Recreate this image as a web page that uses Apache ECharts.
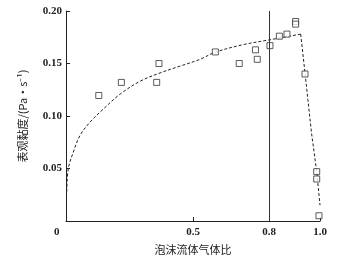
<!DOCTYPE html>
<html><head><meta charset="utf-8">
<script src="https://cdn.jsdelivr.net/npm/echarts@6/dist/echarts.min.js"></script>
<style>html,body{margin:0;padding:0;background:#fff}#c{width:356px;height:260px}</style>
</head><body><div id="c"></div>
<script>
// measured points (gas fraction, apparent viscosity)
const pointX = [0.129, 0.218, 0.357, 0.366, 0.588, 0.682, 0.746, 0.753, 0.803, 0.840, 0.870, 0.904, 0.904, 0.941, 0.987, 0.987, 0.996];
const pointY = [0.1195, 0.132, 0.132, 0.150, 0.161, 0.150, 0.163, 0.154, 0.167, 0.176, 0.178, 0.190, 0.1875, 0.140, 0.047, 0.040, 0.005];
// fitted dashed curve (rising branch, then falling branch)
const riseX = [0.003, 0.009, 0.029, 0.055, 0.094, 0.147, 0.213, 0.291, 0.370, 0.449, 0.528, 0.587, 0.698, 0.803, 0.924];
const riseY = [0.028, 0.050, 0.0657, 0.0814, 0.094, 0.1066, 0.1208, 0.133, 0.141, 0.1475, 0.154, 0.1607, 0.168, 0.1726, 0.178];
const fallX = [0.924, 0.941, 0.967, 0.987, 1.0];
const fallY = [0.178, 0.141, 0.083, 0.047, 0.015];
const xTickValues = [0.5, 0.8, 1.0];
const xTickLabels = ['0.5', '0.8', '1.0'];
const originLabel = '0';
const refLineX = 0.8;
const xName = '泡沫流体气体比';
const yName = '表观黏度/(Pa·s⁻¹)';

const numFont = '"Liberation Serif", "Noto Sans CJK SC", serif';
const dash = {color: '#222', width: 1, type: [3, 2]};
const chart = echarts.init(document.getElementById('c'), null, {renderer: 'canvas'});
chart.setOption({
  animation: false,
  grid: {left: 66, right: 36, top: 11, bottom: 38, containLabel: false},
  xAxis: {
    type: 'value', min: 0, max: 1,
    name: xName, nameLocation: 'middle', nameGap: 23,
    nameTextStyle: {fontFamily: '"Noto Sans CJK SC", sans-serif', fontSize: 11, color: '#222'},
    axisLine: {show: true, lineStyle: {color: '#222', width: 1}},
    axisTick: {show: true, inside: true, length: 4, customValues: xTickValues, lineStyle: {color: '#222'}},
    axisLabel: {
      customValues: xTickValues, margin: 6,
      formatter: v => xTickLabels[xTickValues.indexOf(v)] ?? '',
      fontFamily: numFont, fontWeight: 'bold', fontSize: 11, color: '#222'
    },
    splitLine: {show: false}
  },
  yAxis: {
    type: 'value', min: 0, max: 0.2, interval: 0.05,
    name: yName, nameLocation: 'middle', nameGap: 38, nameRotate: 90,
    nameTextStyle: {fontFamily: '"Noto Sans CJK SC", sans-serif', fontSize: 11, color: '#222'},
    axisLine: {show: true, lineStyle: {color: '#222', width: 1}},
    axisTick: {show: true, inside: true, length: 4, lineStyle: {color: '#222'}},
    axisLabel: {
      showMinLabel: false, margin: 4,
      formatter: v => v.toFixed(2),
      fontFamily: numFont, fontWeight: 'bold', fontSize: 11, color: '#222'
    },
    splitLine: {show: false}
  },
  graphic: [{
    type: 'text', left: 54, top: 227,
    style: {text: originLabel, font: 'bold 11px "Liberation Serif", serif', fill: '#222'}
  }],
  series: [{
    type: 'line',
    data: riseX.map((x, i) => [x, riseY[i]]),
    smooth: 0.35, showSymbol: false, symbol: 'none',
    lineStyle: dash,
    markLine: {
      silent: true, symbol: ['none', 'none'], label: {show: false},
      lineStyle: {color: '#333', width: 1, type: 'solid'},
      data: [{xAxis: refLineX}]
    },
    z: 2
  }, {
    type: 'line',
    data: fallX.map((x, i) => [x, fallY[i]]),
    showSymbol: false, symbol: 'none',
    lineStyle: dash,
    z: 2
  }, {
    type: 'scatter',
    data: pointX.map((x, i) => [x, pointY[i]]),
    symbol: 'rect', symbolSize: 6,
    itemStyle: {color: '#fff', borderColor: '#333', borderWidth: 1},
    z: 3
  }]
});
</script></body></html>
